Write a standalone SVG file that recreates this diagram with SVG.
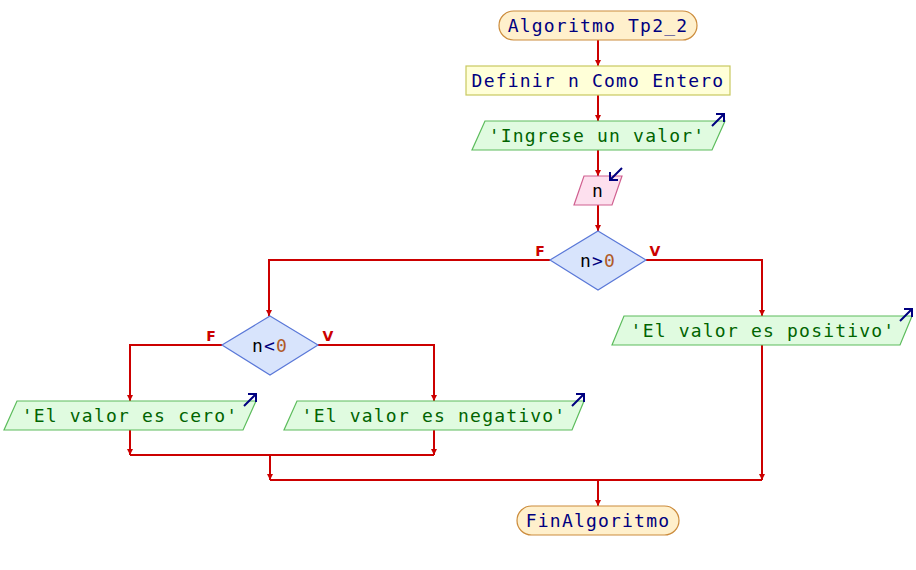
<svg xmlns="http://www.w3.org/2000/svg" width="916" height="570" viewBox="0 0 916 570">
<defs>
<marker id="ah" viewBox="0 0 10 10" refX="10" refY="5" markerWidth="6" markerHeight="9" markerUnits="userSpaceOnUse" orient="auto">
<path d="M0,0 L10,5 L0,10 z" fill="#cc0000"/>
</marker>
</defs>
<style>
.t{font-family:"DejaVu Sans Mono","Liberation Mono",monospace;font-size:18px;letter-spacing:1.2px;text-anchor:middle}
.kw{fill:#000080}
.str{fill:#006400}
.blk{fill:#000000}
.num{fill:#b05a28}
.term{fill:#fff0cc;stroke:#cc8c3c;stroke-width:1.2}
.proc{fill:#ffffd8;stroke:#c8c860;stroke-width:1.2}
.out{fill:#e0fbe0;stroke:#5cbc5c;stroke-width:1.2}
.inp{fill:#fde0ee;stroke:#d06090;stroke-width:1.2}
.dec{fill:#d8e4fc;stroke:#5a78d8;stroke-width:1.2}
.io{fill:none;stroke:#000080;stroke-width:2}
.c{fill:none;stroke:#cc0000;stroke-width:2}
.ca{fill:none;stroke:#cc0000;stroke-width:2;marker-end:url(#ah)}
.lbl{font-family:"DejaVu Sans","Liberation Sans",sans-serif;font-size:14px;font-weight:bold;fill:#cc0000;text-anchor:middle}
</style>
<g id="connectors">
<line class="ca" x1="598" y1="40" x2="598" y2="66"/>
<line class="ca" x1="598" y1="95" x2="598" y2="121"/>
<line class="ca" x1="598" y1="150" x2="598" y2="176"/>
<line class="ca" x1="598" y1="205" x2="598" y2="231"/>
<polyline class="ca" points="550,260 269,260 269,316"/>
<polyline class="ca" points="646,260 762,260 762,316"/>
<polyline class="ca" points="222,345 130,345 130,401"/>
<polyline class="ca" points="318,345 434,345 434,401"/>
<line class="ca" x1="130" y1="430" x2="130" y2="455"/>
<line class="ca" x1="434" y1="430" x2="434" y2="455"/>
<line class="c" x1="130" y1="455" x2="434" y2="455"/>
<line class="ca" x1="270" y1="455" x2="270" y2="480"/>
<line class="ca" x1="762" y1="345" x2="762" y2="480"/>
<line class="c" x1="270" y1="480" x2="762" y2="480"/>
<line class="ca" x1="598" y1="480" x2="598" y2="506"/>
<text class="lbl" x="540" y="256">F</text>
<text class="lbl" x="655" y="256">V</text>
<text class="lbl" x="211" y="341">F</text>
<text class="lbl" x="328" y="341">V</text>
</g>
<g id="inicio">
<rect class="term" x="499" y="11" width="198" height="29" rx="14.5"/>
<text class="t kw" x="598" y="32">Algoritmo Tp2_2</text>
</g>
<g id="definir">
<rect class="proc" x="466" y="66" width="264" height="29"/>
<text class="t kw" x="598" y="87">Definir n Como Entero</text>
</g>
<g id="escribir1">
<polygon class="out" points="485,121 725,121 712,150 472,150"/>
<text class="t str" x="597" y="142">'Ingrese un valor'</text>
<path class="io" d="M712,126 L724,114 M716,114 L724,114 L724,122"/>
</g>
<g id="leer">
<polygon class="inp" points="584,176 622,176 612,205 574,205"/>
<text class="t blk" x="598" y="197">n</text>
<path class="io" d="M622,168 L610,180 M610,172 L610,180 L618,180"/>
</g>
<g id="si1">
<polygon class="dec" points="598,231 646,260 598,290 550,260"/>
<text class="t" x="598" y="267"><tspan class="blk">n</tspan><tspan class="kw">&gt;</tspan><tspan class="num">0</tspan></text>
</g>
<g id="si2">
<polygon class="dec" points="270,316 318,345 270,375 222,345"/>
<text class="t" x="270" y="352"><tspan class="blk">n</tspan><tspan class="kw">&lt;</tspan><tspan class="num">0</tspan></text>
</g>
<g id="escribir_cero">
<polygon class="out" points="17,401 256,401 243,430 4,430"/>
<text class="t str" x="130" y="422">'El valor es cero'</text>
<path class="io" d="M244,406 L256,394 M248,394 L256,394 L256,402"/>
</g>
<g id="escribir_negativo">
<polygon class="out" points="297,401 584,401 572,430 284,430"/>
<text class="t str" x="434" y="422">'El valor es negativo'</text>
<path class="io" d="M572,406 L584,394 M576,394 L584,394 L584,402"/>
</g>
<g id="escribir_positivo">
<polygon class="out" points="624,316 912,316 900,345 612,345"/>
<text class="t str" x="763" y="337">'El valor es positivo'</text>
<path class="io" d="M900,321 L912,309 M904,309 L912,309 L912,317"/>
</g>
<g id="fin">
<rect class="term" x="517" y="506" width="162" height="29" rx="14.5"/>
<text class="t kw" x="598" y="527">FinAlgoritmo</text>
</g>
</svg>
